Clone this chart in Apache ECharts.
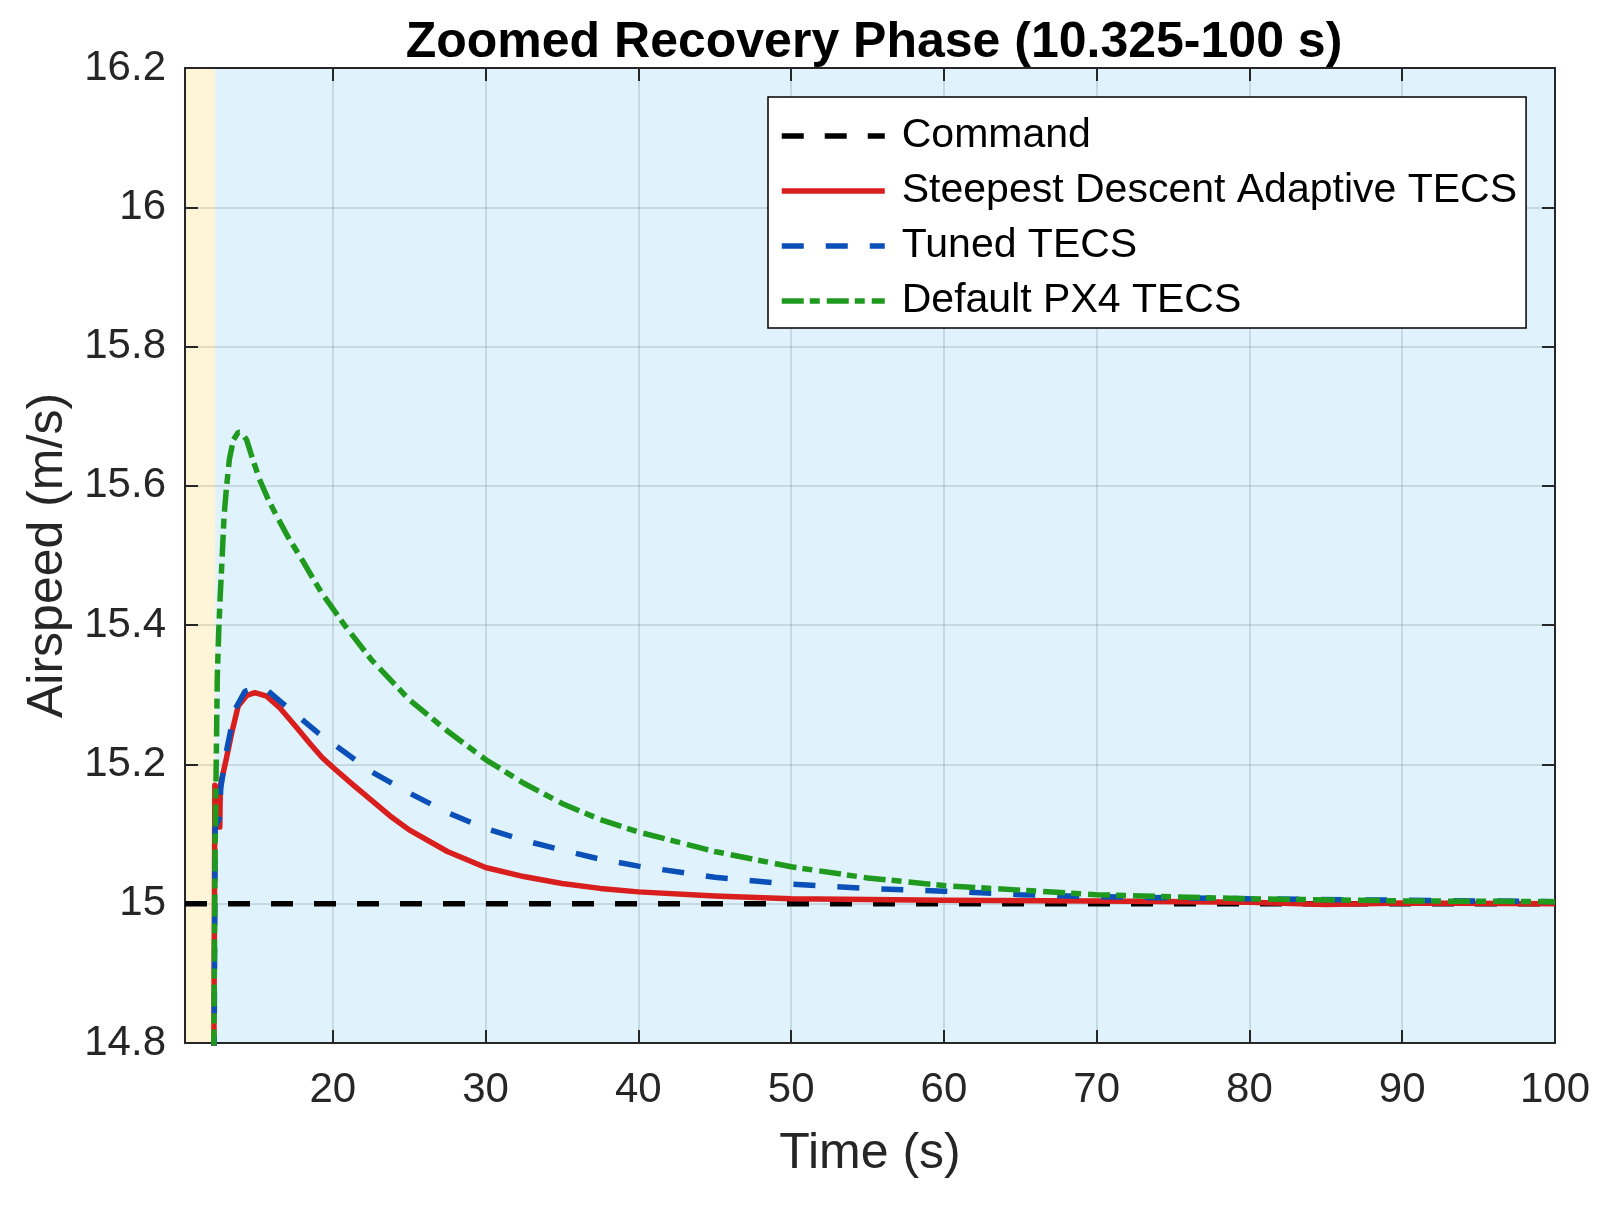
<!DOCTYPE html>
<html>
<head>
<meta charset="utf-8">
<title>Zoomed Recovery Phase</title>
<script src="https://cdn.jsdelivr.net/npm/echarts@6/dist/echarts.min.js"></script>
<style>
    html, body { margin: 0; padding: 0; background: #ffffff; }
    #chart { width: 1608px; height: 1205px; }
</style>
</head>
<body>
<div id="chart"></div>
<script>
// phase boundaries (s): manoeuvre end / recovery
const phaseBounds = [10.325, 12.3, 100];

// command airspeed
const cmdTime  = [10.325, 100];
const cmdSpeed = [15, 15];

// Steepest Descent Adaptive TECS
const sdTime  = [12.15, 12.28, 12.31, 12.36, 12.6, 12.64, 13.0, 13.38, 13.81, 14.36, 14.9,
                 15.67, 16.54, 17.63, 18.5, 19.3, 20, 21.25, 22.5, 23.75, 25, 27.5, 30, 32.5,
                 35, 37.5, 40, 45, 50, 55, 60, 70, 80, 85, 90, 100];
const sdSpeed = [14.4, 15.17, 15.17, 15.11, 15.11, 15.17, 15.205, 15.245, 15.284, 15.299, 15.303,
                 15.298, 15.281, 15.253, 15.23, 15.21, 15.196, 15.172, 15.149, 15.126, 15.106, 15.075, 15.052, 15.039,
                 15.029, 15.022, 15.017, 15.011, 15.007, 15.006, 15.005, 15.004, 15.002, 14.999, 15.001, 15.0];

// Tuned TECS
const tunedTime  = [12.15, 12.3, 12.62, 12.66, 13.0, 13.6, 14.25, 14.97, 15.67, 17.3,
                    19.05, 20, 22.5, 25, 27.5, 30, 32.5, 35, 37.5, 40, 45, 50,
                    55, 60, 65, 70, 80, 90, 100];
const tunedSpeed = [14.4, 15.11, 15.125, 15.165, 15.215, 15.279, 15.305, 15.31, 15.307, 15.277,
                    15.245, 15.23, 15.19, 15.159, 15.131, 15.108, 15.091, 15.077, 15.064, 15.054, 15.038, 15.028,
                    15.022, 15.018, 15.013, 15.010, 15.007, 15.005, 15.003];

// Default PX4 TECS
const defTime  = [12.1, 12.29, 12.44, 12.53, 12.62, 12.75, 12.88, 13.05, 13.23, 13.49,
                  13.81, 14.03, 14.36, 14.73, 15.19, 15.78, 16.37, 17.11, 17.85, 18.57,
                  19.31, 20.12, 20.84, 22.5, 25, 27.5, 30, 32.5, 35, 37.5, 40, 45,
                  50, 55, 60, 70, 80, 90, 100];
const defSpeed = [14.4, 15.064, 15.327, 15.389, 15.437, 15.494, 15.556, 15.6, 15.638, 15.666,
                  15.677, 15.676, 15.666, 15.64, 15.61, 15.58, 15.555, 15.525, 15.499, 15.472,
                  15.445, 15.42, 15.398, 15.351, 15.293, 15.248, 15.207, 15.173, 15.144, 15.121, 15.103, 15.075,
                  15.053, 15.037, 15.026, 15.013, 15.007, 15.004, 15.003];

const names = ['Command', 'Steepest Descent Adaptive TECS', 'Tuned TECS', 'Default PX4 TECS'];

const zip = (xs, ys) => xs.map((x, i) => [x, ys[i]]);

const font = '"Liberation Sans", Arial, sans-serif';
const axisColor = '#262626';
const xMin = phaseBounds[0], xMax = phaseBounds[2];

const chart = echarts.init(document.getElementById('chart'), null, { renderer: 'canvas' });

const baseX = {
    type: 'value',
    min: xMin,
    max: xMax,
    splitNumber: 9,
    axisLine: { show: true, onZero: false, lineStyle: { color: axisColor, width: 2 } },
    axisTick: { show: true, inside: true, length: 13, lineStyle: { color: axisColor, width: 2 } },
    z: 1
};
const baseY = {
    type: 'value',
    min: 14.8,
    max: 16.2,
    interval: 0.2,
    axisLine: { show: true, onZero: false, lineStyle: { color: axisColor, width: 2 } },
    axisTick: { show: true, inside: true, length: 13, lineStyle: { color: axisColor, width: 2 } },
    z: 1
};

const lineBase = {
    type: 'line',
    showSymbol: false,
    symbol: 'none',
    animation: false,
    silent: true
};

const option = {
    animation: false,
    backgroundColor: '#ffffff',
    title: {
        text: 'Zoomed Recovery Phase (10.325-100 s)',
        left: 869,
        top: 13,
        textAlign: 'center',
        textStyle: { fontFamily: font, fontSize: 50, fontWeight: 'bold', color: '#000000' }
    },
    legend: {
        orient: 'vertical',
        left: 768,
        top: 97,
        data: names,
        itemWidth: 103,
        itemHeight: 14,
        itemGap: 9,
        padding: [16, 9, 4, 11],
        backgroundColor: '#ffffff',
        borderColor: '#000000',
        borderWidth: 1.5,
        borderRadius: 0,
        selectedMode: false,
        itemStyle: { opacity: 0, borderWidth: 0 },
        lineStyle: { width: 5.5 },
        textStyle: { fontFamily: font, fontSize: 41, color: '#000000', lineHeight: 46, padding: [0, 0, 0, 12] }
    },
    grid: { left: 185, right: 53, top: 68, bottom: 162, containLabel: false },
    xAxis: [
        Object.assign({}, baseX, {
            position: 'bottom',
            name: 'Time (s)',
            nameLocation: 'middle',
            nameGap: 86,
            nameTextStyle: { fontFamily: font, fontSize: 50, color: axisColor },
            axisLabel: {
                margin: 26,
                fontFamily: font, fontSize: 42, color: axisColor,
                formatter: v => (Math.abs(v % 10) < 1e-6 ? String(Math.round(v)) : '')
            },
            splitLine: { show: true, lineStyle: { color: 'rgba(38,38,38,0.15)', width: 2 } }
        }),
        Object.assign({}, baseX, {
            position: 'top',
            axisLabel: { show: false },
            splitLine: { show: false }
        })
    ],
    yAxis: [
        Object.assign({}, baseY, {
            position: 'left',
            name: 'Airspeed (m/s)',
            nameLocation: 'middle',
            nameGap: 112,
            nameTextStyle: { fontFamily: font, fontSize: 50, color: axisColor },
            axisLabel: { margin: 19, fontFamily: font, fontSize: 42, color: axisColor },
            splitLine: { show: true, lineStyle: { color: 'rgba(38,38,38,0.15)', width: 2 } }
        }),
        Object.assign({}, baseY, {
            position: 'right',
            axisLabel: { show: false },
            splitLine: { show: false }
        })
    ],
    series: [
        Object.assign({}, lineBase, {
            name: 'phases',
            data: [],
            z: 0,
            markArea: {
                silent: true,
                data: [
                    [{ xAxis: phaseBounds[0], itemStyle: { color: 'rgba(250,200,60,0.2)' } }, { xAxis: phaseBounds[1] }],
                    [{ xAxis: phaseBounds[1], itemStyle: { color: 'rgba(100,190,235,0.2)' } }, { xAxis: phaseBounds[2] }]
                ]
            }
        }),
        Object.assign({}, lineBase, {
            name: names[0],
            data: zip(cmdTime, cmdSpeed),
            lineStyle: { color: '#000000', width: 5.5, type: [22, 21], cap: 'butt' },
            itemStyle: { color: '#000000' }
        }),
        Object.assign({}, lineBase, {
            name: names[1],
            data: zip(sdTime, sdSpeed),
            lineStyle: { color: '#d91e1e', width: 5.5, type: 'solid', join: 'round' },
            itemStyle: { color: '#d91e1e' }
        }),
        Object.assign({}, lineBase, {
            name: names[2],
            data: zip(tunedTime, tunedSpeed),
            lineStyle: { color: '#0a50b8', width: 5.5, type: [22, 22], cap: 'butt' },
            itemStyle: { color: '#0a50b8' }
        }),
        Object.assign({}, lineBase, {
            name: names[3],
            data: zip(defTime, defSpeed),
            lineStyle: { color: '#1f9a1f', width: 5.5, type: [22, 6, 10, 7], cap: 'butt' },
            itemStyle: { color: '#1f9a1f' }
        })
    ]
};

chart.setOption(option);
</script>
</body>
</html>
